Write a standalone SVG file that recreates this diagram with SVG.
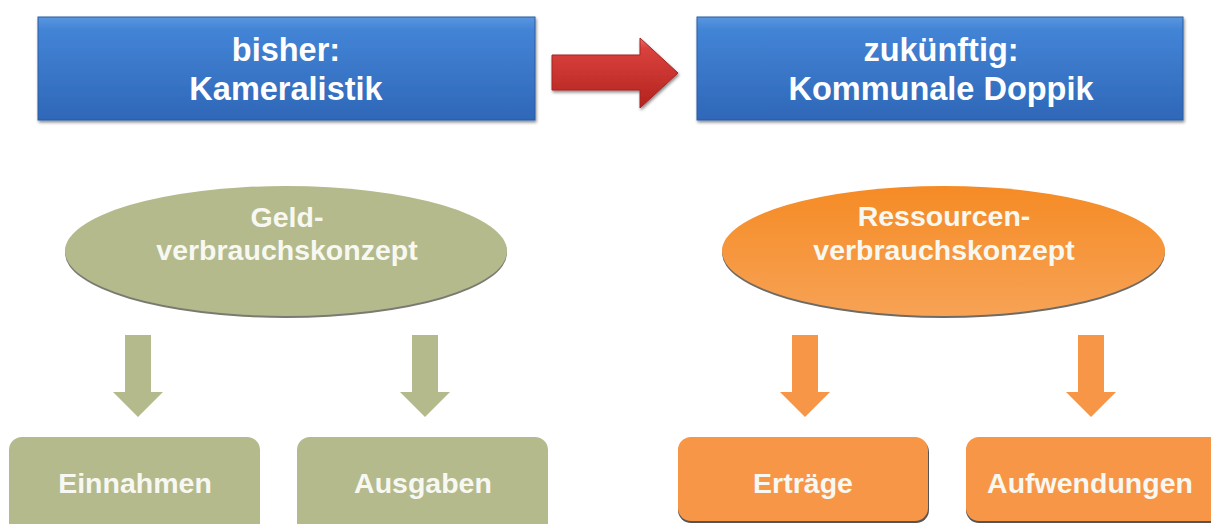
<svg xmlns="http://www.w3.org/2000/svg" width="1211" height="524" viewBox="0 0 1211 524">
  <defs>
    <linearGradient id="gBlue" x1="0" y1="0" x2="0" y2="1">
      <stop offset="0" stop-color="#5a97e0"/>
      <stop offset="0.12" stop-color="#4384d6"/>
      <stop offset="1" stop-color="#2f67b8"/>
    </linearGradient>
    <linearGradient id="gRed" x1="0" y1="0" x2="0" y2="1">
      <stop offset="0" stop-color="#e86a66"/>
      <stop offset="0.15" stop-color="#d9413d"/>
      <stop offset="1" stop-color="#b3231f"/>
    </linearGradient>
    <linearGradient id="gOrange" x1="0" y1="0" x2="0" y2="1">
      <stop offset="0" stop-color="#f58b25"/>
      <stop offset="1" stop-color="#f7a255"/>
    </linearGradient>
    <filter id="sh" x="-5%" y="-10%" width="110%" height="130%">
      <feDropShadow dx="1" dy="2" stdDeviation="1.5" flood-color="#000" flood-opacity="0.45"/>
    </filter>
  </defs>
  <style>
    .t { font-family: "Liberation Sans", Arial, sans-serif; font-weight: bold; text-anchor: middle; }
    .head { font-size: 32.5px; fill: #ffffff; }
    .ell { font-size: 28.5px; fill: #f8f8f2; }
    .box { font-size: 28.5px; fill: #f8f8f2; }
    .green { fill: #b4ba8c; }
    .orange { fill: #f79646; }
    .blue { fill: url(#gBlue); stroke: #2a5ca3; stroke-width: 1; }
  </style>
  <rect width="1211" height="524" fill="#ffffff"/>

  <g id="node-kameralistik">
    <rect class="blue" x="38" y="17" width="497" height="103" filter="url(#sh)"/>
    <text class="t head" x="286" y="61">bisher:</text>
    <text class="t head" x="286" y="100">Kameralistik</text>
  </g>

  <g id="node-doppik">
    <rect class="blue" x="697" y="17" width="486" height="103" filter="url(#sh)"/>
    <text class="t head" x="941" y="61">zukünftig:</text>
    <text class="t head" x="941" y="100">Kommunale Doppik</text>
  </g>

  <g id="node-geldverbrauch">
    <ellipse cx="286" cy="253" rx="221" ry="65" fill="#7a7a72"/>
    <ellipse cx="286" cy="251" rx="221" ry="65" class="green"/>
    <text class="t ell" x="287" y="227">Geld-</text>
    <text class="t ell" x="287" y="260">verbrauchskonzept</text>
  </g>

  <g id="node-ressourcenverbrauch">
    <ellipse cx="943.5" cy="253" rx="221.5" ry="65" fill="#6e6a64"/>
    <ellipse cx="943.5" cy="251" rx="221.5" ry="65" fill="url(#gOrange)"/>
    <text class="t ell" x="944" y="226">Ressourcen-</text>
    <text class="t ell" x="944" y="260">verbrauchskonzept</text>
  </g>

  <g id="node-einnahmen">
    <rect class="green" x="9" y="437" width="251" height="100" rx="13"/>
    <text class="t box" x="135" y="493">Einnahmen</text>
  </g>

  <g id="node-ausgaben">
    <rect class="green" x="297" y="437" width="251" height="100" rx="13"/>
    <text class="t box" x="423" y="493">Ausgaben</text>
  </g>

  <g id="node-ertraege">
    <rect x="678" y="439" width="251" height="84" rx="13" fill="#555"/>
    <rect class="orange" x="678" y="437" width="250" height="84" rx="13"/>
    <text class="t box" x="803" y="493">Erträge</text>
  </g>

  <g id="node-aufwendungen">
    <rect x="966" y="439" width="260" height="84" rx="13" fill="#555"/>
    <rect class="orange" x="966" y="437" width="260" height="84" rx="13"/>
    <text class="t box" x="1090" y="493">Aufwendungen</text>
  </g>

  <g id="connectors">
    <path d="M552,55 H640 V38 L678,73 L640,108 V90 H552 Z" fill="url(#gRed)" stroke="#a52522" stroke-width="1" filter="url(#sh)"/>
    <path d="M125,335 H151 V392 H163 L138,417 L113,392 H125 Z" class="green"/>
    <path d="M412,335 H438 V392 H450 L425,417 L400,392 H412 Z" class="green"/>
    <path d="M792,335 H818 V392 H830 L805,417 L780,392 H792 Z" class="orange"/>
    <path d="M1078,335 H1104 V392 H1116 L1091,417 L1066,392 H1078 Z" class="orange"/>
  </g>
</svg>
